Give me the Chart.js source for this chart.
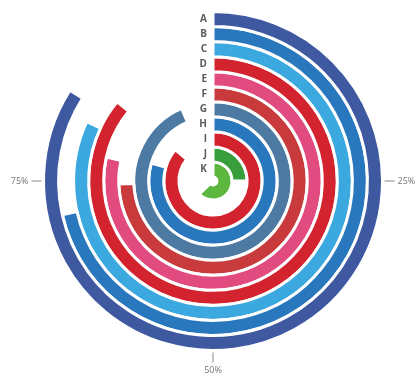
<!DOCTYPE html>
<html>
<head>
<meta charset="utf-8">
<script src="https://cdn.jsdelivr.net/npm/chart.js@4/dist/chart.umd.min.js"></script>
<style>
  html, body { margin: 0; padding: 0; background: #fff; }
  canvas { display: block; }
</style>
</head>
<body>
<canvas id="radial-chart" width="418" height="376"></canvas>
<script>
// Data (percent of a full circle)
const categories = ["A", "B", "C", "D", "E", "F", "G", "H", "I", "J", "K"];
const values = [84, 71.5, 82, 86, 78.5, 74.5, 93.5, 79.5, 86, 25, 63];
const colors = ["#3f59a1", "#2977bd", "#3ba8df", "#d3232f", "#e24b7f", "#c93a3d",
                "#4d7aa3", "#2977bd", "#d3232f", "#379e3b", "#5db73e"];
const tickValues = [25, 50, 75];
const maxValue = 100;

// Draws category letters and the percent ticks around the rings
const radialLabels = {
  id: "radialLabels",
  afterDraw(chart) {
    const ctx = chart.ctx;
    let cx = 0, cy = 0, outer = 0;

    ctx.save();
    ctx.fillStyle = "#5a5a5a";
    ctx.font = "bold 10px 'Open Sans', sans-serif";
    ctx.textAlign = "right";
    ctx.textBaseline = "middle";
    categories.forEach((cat, i) => {
      const arc = chart.getDatasetMeta(i).data[0];
      const r = (arc.innerRadius + arc.outerRadius) / 2;
      cx = arc.x; cy = arc.y;
      outer = Math.max(outer, arc.outerRadius);
      ctx.fillText(cat, cx - 6, cy - r);
    });

    ctx.strokeStyle = "#888";
    ctx.lineWidth = 1;
    ctx.fillStyle = "#777";
    ctx.font = "9px 'Open Sans', sans-serif";
    tickValues.forEach(v => {
      const a = -Math.PI / 2 + (v / maxValue) * Math.PI * 2;
      const cos = Math.cos(a), sin = Math.sin(a);
      ctx.beginPath();
      ctx.moveTo(cx + cos * (outer + 2), cy + sin * (outer + 2));
      ctx.lineTo(cx + cos * (outer + 12), cy + sin * (outer + 12));
      ctx.stroke();
      ctx.textAlign = cos > 0.5 ? "left" : cos < -0.5 ? "right" : "center";
      ctx.textBaseline = sin > 0.5 ? "top" : sin < -0.5 ? "bottom" : "middle";
      ctx.fillText(v + "%", cx + cos * (outer + 15), cy + sin * (outer + 15));
    });
    ctx.restore();
  }
};

const datasets = categories.map((cat, i) => ({
  label: cat,
  data: [values[i], maxValue - values[i]],
  backgroundColor: [colors[i], "rgba(0,0,0,0)"],
  borderColor: "#fff",
  borderWidth: [3, 0],
  borderRadius: 0
}));

new Chart(document.getElementById("radial-chart"), {
  type: "doughnut",
  data: { labels: ["value", "rest"], datasets },
  options: {
    responsive: false,
    animation: false,
    cutout: 4,
    rotation: 0,
    circumference: 360,
    layout: { padding: { left: 42, right: 34, top: 10, bottom: 24 } },
    plugins: {
      legend: { display: false },
      tooltip: { enabled: false }
    },
    events: []
  },
  plugins: [radialLabels]
});
</script>
</body>
</html>
